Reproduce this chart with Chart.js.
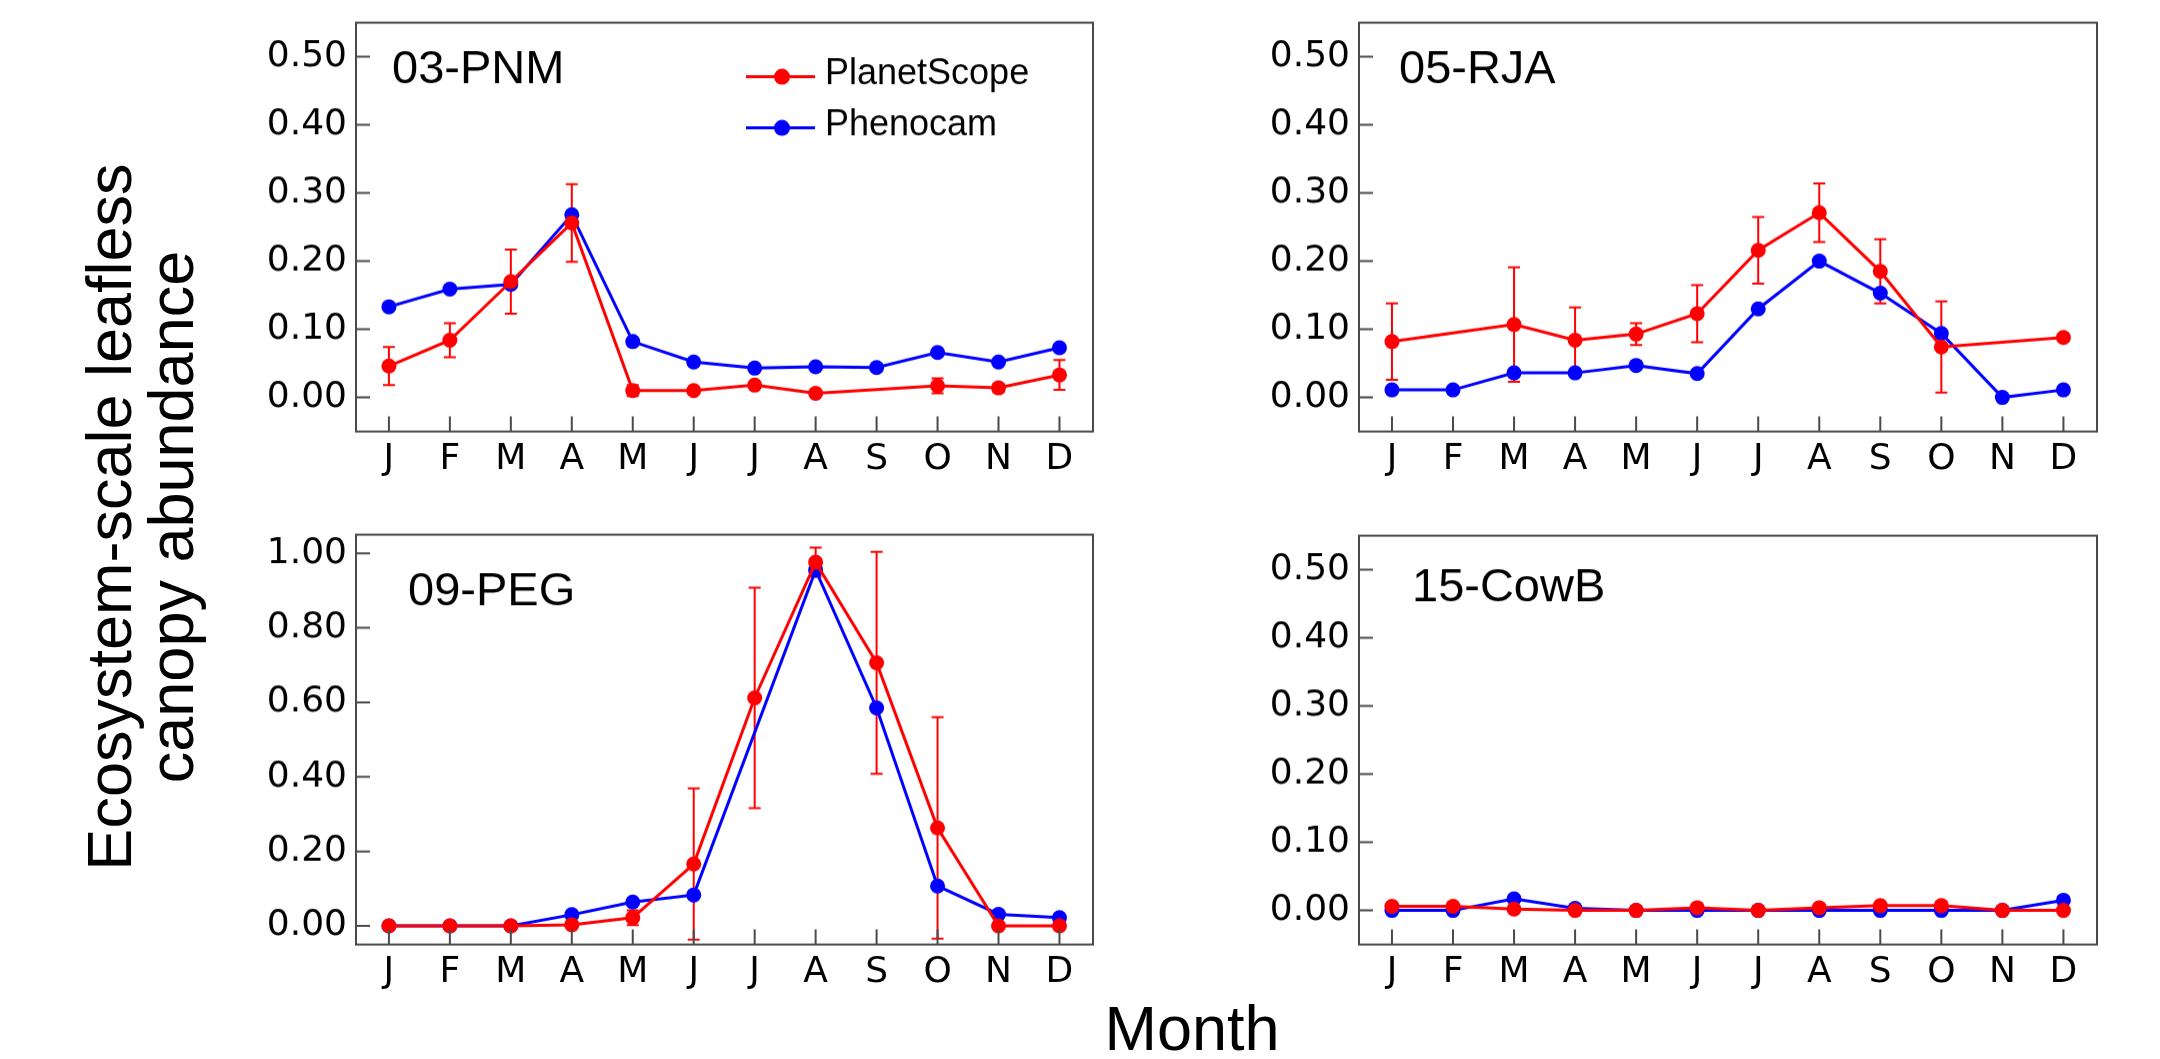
<!DOCTYPE html>
<html>
<head>
<meta charset="utf-8">
<script src="https://cdn.jsdelivr.net/npm/chart.js@4.4.1/dist/chart.umd.min.js"></script>
<style>
  body { margin: 0; background: #fff; width: 2160px; height: 1059px; position: relative; overflow: hidden; }
  canvas { position: absolute; }
  .ytitle {
    position: absolute; left: -310px; top: 455px; width: 900px; height: 124px;
    font: 63px/62px "Liberation Sans", Arial, sans-serif; text-align: center;
    transform: rotate(-90deg); color: #000;
  }
  .xtitle {
    position: absolute; left: 992px; top: 997px; width: 400px;
    font: 63px/63px "Liberation Sans", Arial, sans-serif; text-align: center; color: #000;
  }
</style>
</head>
<body>
<canvas id="p1" width="867" height="488" style="left:246px;top:3px"></canvas>
<canvas id="p2" width="868" height="488" style="left:1249px;top:3px"></canvas>
<canvas id="p3" width="867" height="489" style="left:246px;top:515px"></canvas>
<canvas id="p4" width="868" height="488" style="left:1249px;top:516px"></canvas>
<div class="ytitle">Ecosystem-scale leafless<br>canopy abundance</div>
<div class="xtitle">Month</div>
<script>
const months = ["J", "F", "M", "A", "M", "J", "J", "A", "S", "O", "N", "D"];
const ticksHalf = [0, 0.1, 0.2, 0.3, 0.4, 0.5];
const ticksFull = [0, 0.2, 0.4, 0.6, 0.8, 1.0];

// 03-PNM
const pnmPlanet = [0.046, 0.084, 0.170, 0.256, 0.010, 0.010, 0.018, 0.006, null, 0.017, 0.014, 0.033];
const pnmErr = [0.028, 0.025, 0.047, 0.057, 0.008, 0, 0, 0, 0, 0.011, 0.006, 0.022];
const pnmPheno = [0.133, 0.159, 0.166, 0.268, 0.082, 0.052, 0.043, 0.045, 0.044, 0.066, 0.052, 0.073];

// 05-RJA
const rjaPlanet = [0.082, null, 0.107, 0.084, 0.093, 0.123, 0.216, 0.271, 0.185, 0.074, null, 0.088];
const rjaErr = [0.056, 0, 0.084, 0.048, 0.016, 0.042, 0.049, 0.043, 0.047, 0.067, 0, 0];
const rjaPheno = [0.011, 0.011, 0.036, 0.036, 0.047, 0.035, 0.130, 0.200, 0.153, 0.094, 0.000, 0.011];

// 09-PEG
const pegPlanet = [0, 0, 0, 0.003, 0.022, 0.166, 0.612, 0.976, 0.706, 0.263, 0, 0];
const pegErr = [0, 0, 0, 0, 0.020, 0.203, 0.296, 0.039, 0.298, 0.297, 0, 0];
const pegPheno = [0, 0, 0, 0.030, 0.064, 0.083, null, 0.955, 0.585, 0.107, 0.031, 0.022];

// 15-CowB
const cowPlanet = [0.006, 0.006, 0.002, 0, 0, 0.004, 0, 0.004, 0.007, 0.007, 0, 0];
const cowErr = [0.004, 0.004, 0, 0, 0, 0.003, 0, 0.003, 0.003, 0.006, 0, 0];
const cowPheno = [0, 0, 0.017, 0.003, 0, 0, 0, 0, 0, 0, 0, 0.015];

const RED = "#ff0000";
const BLUE = "#0000ff";
const FRAME = "#4a4a4a";

// error bars, box, inward ticks, panel label and legend
const panelDecor = {
  id: "panelDecor",
  beforeDatasetsDraw(chart, args, opts) {
    const { ctx, chartArea } = chart;
    const xs = chart.scales.x, ys = chart.scales.y;
    ctx.save();
    ctx.beginPath();
    ctx.rect(chartArea.left, chartArea.top, chartArea.width, chartArea.height);
    ctx.clip();
    ctx.strokeStyle = RED;
    ctx.lineWidth = 2;
    chart.data.datasets[0].data.forEach((p, i) => {
      const e = opts.err[i];
      if (p.y == null || !e) return;
      const px = xs.getPixelForValue(p.x);
      const top = ys.getPixelForValue(p.y + e);
      const bot = ys.getPixelForValue(p.y - e);
      ctx.beginPath();
      ctx.moveTo(px, top); ctx.lineTo(px, bot);
      ctx.moveTo(px - 6, top); ctx.lineTo(px + 6, top);
      ctx.moveTo(px - 6, bot); ctx.lineTo(px + 6, bot);
      ctx.stroke();
    });
    ctx.restore();
  },
  afterDraw(chart, args, opts) {
    const { ctx, chartArea: a } = chart;
    const xs = chart.scales.x, ys = chart.scales.y;
    ctx.save();
    ctx.strokeStyle = FRAME;
    ctx.lineWidth = 2;
    ctx.strokeRect(a.left, a.top, a.width, a.height);
    ctx.beginPath();
    xs.ticks.forEach(t => {
      const px = xs.getPixelForValue(t.value);
      ctx.moveTo(px, a.bottom); ctx.lineTo(px, a.bottom - 15);
    });
    ys.ticks.forEach(t => {
      const py = ys.getPixelForValue(t.value);
      ctx.moveTo(a.left, py); ctx.lineTo(a.left + 14, py);
    });
    ctx.stroke();

    ctx.fillStyle = "#000";
    ctx.font = "47px 'Liberation Sans', Arial, sans-serif";
    ctx.textBaseline = "alphabetic";
    ctx.fillText(opts.label, a.left + opts.lx, a.top + opts.ly);

    if (opts.legend) {
      const items = [["PlanetScope", RED, 54], ["Phenocam", BLUE, 105]];
      ctx.font = "36px 'Liberation Sans', Arial, sans-serif";
      items.forEach(([name, col, dy]) => {
        const y = a.top + dy;
        ctx.strokeStyle = col;
        ctx.lineWidth = 3;
        ctx.beginPath();
        ctx.moveTo(a.left + 390, y); ctx.lineTo(a.left + 459, y);
        ctx.stroke();
        ctx.fillStyle = col;
        ctx.beginPath();
        ctx.arc(a.left + 426, y, 8, 0, Math.PI * 2);
        ctx.fill();
        ctx.fillStyle = "#000";
        ctx.fillText(name, a.left + 469, y + 7);
      });
    }
    ctx.restore();
  }
};

function makeChart(id, box, planet, err, pheno, yMax, yTicks, label, lx, ly, legend) {
  const toPts = arr => arr.map((v, i) => ({ x: i, y: v }));
  const tickFont = { family: "'DejaVu Sans', sans-serif", size: 36 };
  const canvas = document.getElementById(id);
  const chart = new Chart(canvas, {
    type: "line",
    data: {
      datasets: [
        {
          label: "PlanetScope",
          data: toPts(planet),
          borderColor: RED,
          backgroundColor: RED,
          borderWidth: 3,
          pointRadius: 7.5,
          pointBorderWidth: 0,
          spanGaps: true,
        },
        {
          label: "Phenocam",
          data: toPts(pheno),
          borderColor: BLUE,
          backgroundColor: BLUE,
          borderWidth: 3,
          pointRadius: 7.5,
          pointBorderWidth: 0,
          spanGaps: true,
        },
      ],
    },
    options: {
      responsive: false,
      maintainAspectRatio: false,
      animation: false,
      layout: { padding: { top: 20, right: 20, left: 0, bottom: 0 } },
      plugins: {
        legend: { display: false },
        tooltip: { enabled: false },
        panelDecor: { err, label, lx, ly, legend },
      },
      scales: {
        x: {
          type: "linear",
          min: -0.54,
          max: 11.55,
          grid: { display: false, drawTicks: false },
          border: { display: false },
          afterBuildTicks: s => { s.ticks = months.map((m, i) => ({ value: i })); },
          afterFit: s => { s.height = 60; },
          ticks: {
            autoSkip: false,
            maxRotation: 0,
            padding: 6,
            color: "#000",
            font: tickFont,
            callback: v => months[v],
          },
        },
        y: {
          min: -0.05,
          max: yMax,
          grid: { display: false, drawTicks: false },
          border: { display: false },
          afterBuildTicks: s => { s.ticks = yTicks.map(v => ({ value: v })); },
          afterFit: s => { s.width = 110; },
          ticks: {
            padding: 9,
            color: "#000",
            font: tickFont,
            callback: v => v.toFixed(2),
          },
        },
      },
    },
    plugins: [panelDecor],
  });

  // size the canvas so the plot box lands where the reference has it
  const a = chart.chartArea;
  chart.resize(chart.width + box.w - (a.right - a.left), chart.height + box.h - (a.bottom - a.top));
  const b = chart.chartArea;
  canvas.style.left = (box.l - b.left) + "px";
  canvas.style.top = (box.t - b.top) + "px";
}

makeChart("p1", { l: 356, t: 23, w: 737, h: 408 }, pnmPlanet, pnmErr, pnmPheno, 0.55, ticksHalf, "03-PNM", 36, 60, true);
makeChart("p2", { l: 1359, t: 23, w: 738, h: 408 }, rjaPlanet, rjaErr, rjaPheno, 0.55, ticksHalf, "05-RJA", 40, 60, false);
makeChart("p3", { l: 356, t: 535, w: 737, h: 409 }, pegPlanet, pegErr, pegPheno, 1.05, ticksFull, "09-PEG", 52, 70, false);
makeChart("p4", { l: 1359, t: 536, w: 738, h: 408 }, cowPlanet, cowErr, cowPheno, 0.55, ticksHalf, "15-CowB", 53, 65, false);
</script>
</body>
</html>
